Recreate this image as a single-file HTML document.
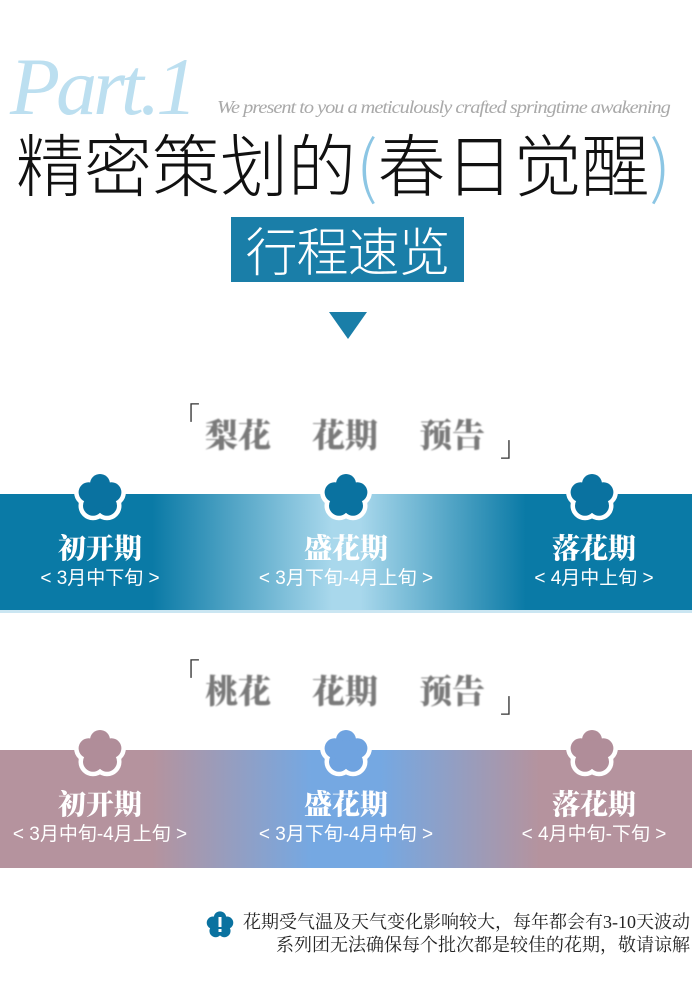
<!DOCTYPE html>
<html><head><meta charset="utf-8"><style>
*{margin:0;padding:0;box-sizing:border-box}
body{width:692px;height:1008px;background:#fff;position:relative;overflow:hidden;font-family:"Liberation Serif","Noto Serif CJK SC",serif}
.a{position:absolute;white-space:nowrap}
.band{position:absolute;left:0;width:692px}
.lbl{position:absolute;width:240px;text-align:center;color:#fff}
.t{font-family:"Noto Serif CJK SC",serif;font-weight:900;font-size:28px;line-height:34px}
.s{font-family:"Liberation Sans","Noto Sans CJK SC",sans-serif;font-size:19px;line-height:24px;margin-top:3px}
.h{font-family:"Noto Serif CJK SC",serif;font-weight:900;font-size:33px;color:#7a7a7a;filter:blur(0.9px)}
.br{font-family:"Noto Sans CJK SC",sans-serif;font-size:28px;color:#333;font-weight:300}
</style></head><body>
<div class="a" style="left:10px;top:42px;font-family:'Liberation Serif',serif;font-style:italic;font-size:82px;color:#bcdff0;letter-spacing:-4px;line-height:90px">Part.1</div>
<div class="a" style="left:217px;top:97px;font-family:'Liberation Serif',serif;font-style:italic;font-size:18px;color:#a9a9a9;letter-spacing:-0.9px;transform:scaleX(1.13);transform-origin:left">We present to you a meticulously crafted springtime awakening</div>
<div class="a" style="left:16px;top:122px;font-family:'Noto Sans CJK SC',sans-serif;font-weight:300;font-size:68px;line-height:80px;color:#111;letter-spacing:0px">精密策划的<span style="color:#8cc6e4">(</span>春日觉醒<span style="color:#8cc6e4">)</span></div>
<div class="a" style="left:231px;top:217px;width:233px;height:65px;background:#1a7ea8;color:#fff;font-family:'Noto Sans CJK SC',sans-serif;font-weight:300;font-size:52px;line-height:64px;text-align:center;letter-spacing:-1px">行程速览</div>
<svg class="a" style="left:329px;top:312px" width="38" height="27"><polygon points="0,0 38,0 19,27" fill="#1a7ea8"/></svg>

<div class="a br" style="left:172px;top:396px">「</div>
<div class="a h" style="left:205px;top:410px">梨花</div><div class="a h" style="left:312px;top:410px">花期</div><div class="a h" style="left:419px;top:410px">预告</div>
<div class="a br" style="left:500px;top:425px">」</div>

<div class="band" style="top:494px;height:116px;background:linear-gradient(90deg,#0a7aa6 0%,#0a7aa6 22%,#a9d8ec 48%,#a9d8ec 52%,#0a7aa6 76%,#0a7aa6 100%)"></div>
<div class="band" style="top:610px;height:3px;background:#cbe6f2"></div>

<div class="a br" style="left:172px;top:652px">「</div>
<div class="a h" style="left:205px;top:666px">桃花</div><div class="a h" style="left:312px;top:666px">花期</div><div class="a h" style="left:419px;top:666px">预告</div>
<div class="a br" style="left:500px;top:681px">」</div>

<div class="band" style="top:750px;height:118px;background:linear-gradient(90deg,#b5939e 0%,#b5939e 22%,#75a8e2 45%,#75a8e2 55%,#b5939e 78%,#b5939e 100%)"></div>

<svg class="a" style="left:0;top:460px" width="692" height="320">
<defs>
<g id="fl">
<circle cx="0" cy="-12" r="10"/><circle cx="11.4" cy="-3.7" r="10"/><circle cx="7" cy="9.7" r="10"/><circle cx="-7" cy="9.7" r="10"/><circle cx="-11.4" cy="-3.7" r="10"/><circle cx="0" cy="0" r="12"/>
</g>
</defs>
<g fill="#fff" stroke="#fff" stroke-width="9"><use href="#fl" x="100" y="36"/><use href="#fl" x="346" y="36"/><use href="#fl" x="592" y="36"/></g>
<g fill="#0a72a0"><use href="#fl" x="100" y="36"/><use href="#fl" x="346" y="36"/><use href="#fl" x="592" y="36"/></g>
<g fill="#fff" stroke="#fff" stroke-width="9"><use href="#fl" x="100" y="292"/><use href="#fl" x="346" y="292"/><use href="#fl" x="592" y="292"/></g>
<g fill="#b08d99"><use href="#fl" x="100" y="292"/><use href="#fl" x="592" y="292"/></g>
<g fill="#6fa3e0"><use href="#fl" x="346" y="292"/></g>
</svg>

<div class="lbl" style="left:-20px;top:530px"><div class="t">初开期</div><div class="s">&lt; 3月中下旬 &gt;</div></div>
<div class="lbl" style="left:226px;top:530px"><div class="t">盛花期</div><div class="s">&lt; 3月下旬-4月上旬 &gt;</div></div>
<div class="lbl" style="left:474px;top:530px"><div class="t">落花期</div><div class="s">&lt; 4月中上旬 &gt;</div></div>

<div class="lbl" style="left:-20px;top:786px"><div class="t">初开期</div><div class="s">&lt; 3月中旬-4月上旬 &gt;</div></div>
<div class="lbl" style="left:226px;top:786px"><div class="t">盛花期</div><div class="s">&lt; 3月下旬-4月中旬 &gt;</div></div>
<div class="lbl" style="left:474px;top:786px"><div class="t">落花期</div><div class="s">&lt; 4月中旬-下旬 &gt;</div></div>

<svg class="a" style="left:205px;top:910px" width="30" height="30"><g transform="translate(15,15) scale(0.62)" fill="#0a72a0"><circle cx="0" cy="-12" r="10"/><circle cx="11.4" cy="-3.7" r="10"/><circle cx="7" cy="9.7" r="10"/><circle cx="-7" cy="9.7" r="10"/><circle cx="-11.4" cy="-3.7" r="10"/><circle cx="0" cy="0" r="12"/></g><rect x="13.5" y="7" width="3" height="10" fill="#fff"/><rect x="13.5" y="19" width="3" height="3" fill="#fff"/></svg>
<div class="a" style="right:2px;top:911px;text-align:right;font-family:'Liberation Serif','Noto Serif CJK SC',serif;font-size:18px;line-height:23px;color:#222">花期受气温及天气变化影响较大，每年都会有3-10天波动<br>系列团无法确保每个批次都是较佳的花期，敬请谅解</div>
</body></html>
